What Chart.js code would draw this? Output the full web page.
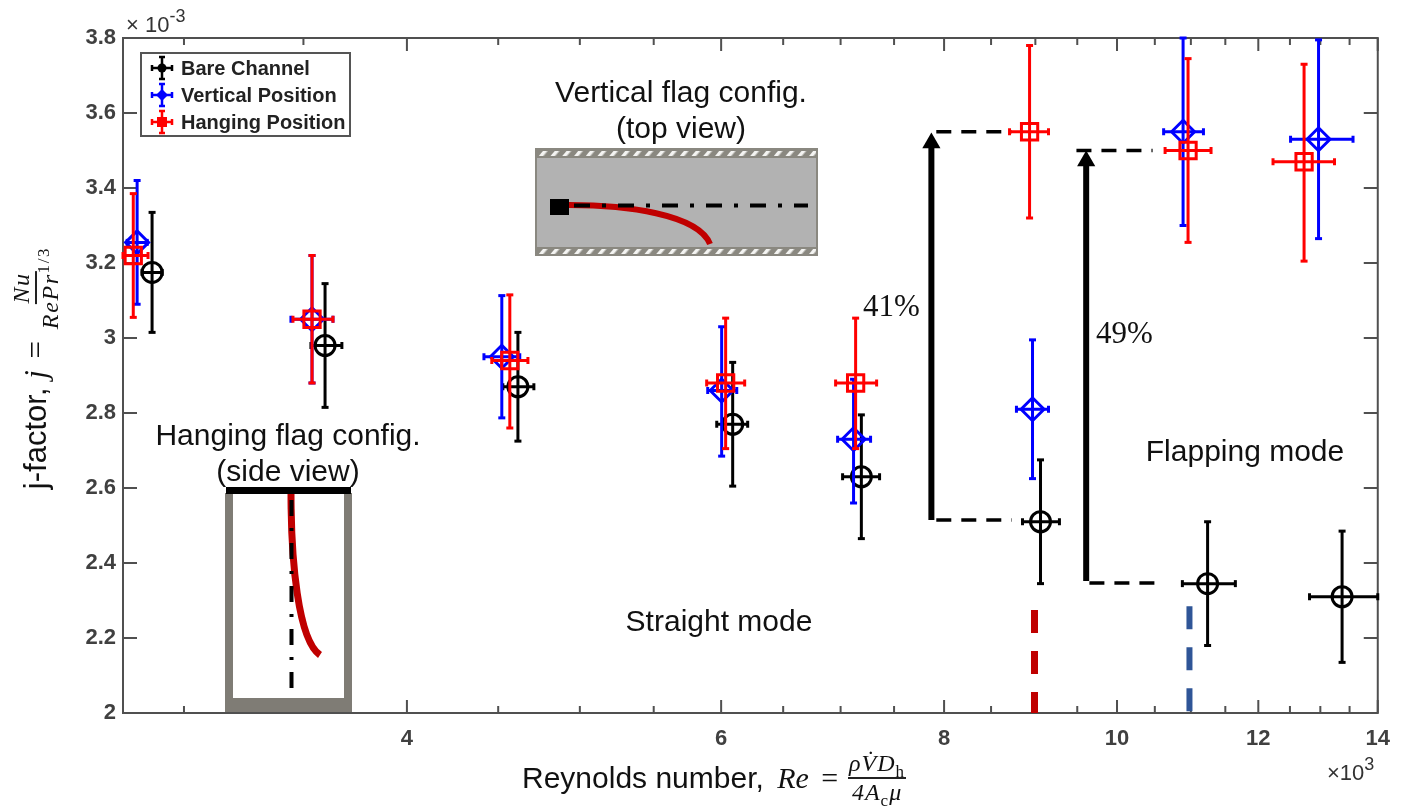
<!DOCTYPE html>
<html lang="en">
<head>
<meta charset="UTF-8">
<title>j-factor vs Reynolds number</title>
<script src="https://cdn.jsdelivr.net/npm/chart.js"></script>
<style>
    html, body { margin: 0; padding: 0; background: #fff; }
    #wrap { position: relative; width: 1403px; height: 808px; overflow: hidden; font-family: "Liberation Sans", Arial, sans-serif; color: #111; }
    canvas { position: absolute; left: 0; top: 0; }
    svg.overlay { position: absolute; left: 0; top: 0; }
    .note { position: absolute; font-size: 30px; line-height: 35.5px; text-align: center; white-space: nowrap; transform: translateX(-50%); }
    .pct { position: absolute; font-family: "Liberation Serif", serif; font-size: 31px; white-space: nowrap; }
    .exp { position: absolute; font-size: 22px; color: #333; white-space: nowrap; }
    .exp sup { font-size: 18px; position: relative; top: -2px; line-height: 0; vertical-align: super; }
    #legend { position: absolute; left: 140px; top: 52px; width: 207px; height: 81px; border: 2px solid #555; background: #fff; }
    #legend div { position: absolute; left: 39px; font-weight: bold; font-size: 20px; line-height: 22px; color: #222; white-space: nowrap; }
    .axis-title { position: absolute; font-size: 30px; white-space: nowrap; display: flex; align-items: center; }
    .m { font-family: "Liberation Serif", serif; font-style: italic; }
    .frac { display: inline-flex; flex-direction: column; align-items: center; font-family: "Liberation Serif", serif; font-style: italic; font-size: 24px; line-height: 27px; letter-spacing: 1px; }
    .frac span:first-child { border-bottom: 2.5px solid #222; padding: 0 1px; }
    .frac sub, .frac sup { font-size: 17px; line-height: 0; font-style: normal; }
</style>
</head>
<body>
<div id="wrap">
    <canvas id="chart" width="1403" height="808"></canvas>

    <svg class="overlay" width="1403" height="808">
        <defs>
            <pattern id="hatch" width="9" height="9" patternUnits="userSpaceOnUse" patternTransform="rotate(40)">
                <rect width="9" height="9" fill="#8a8880"/>
                <rect width="3.5" height="9" fill="#f4f4f2"/>
            </pattern>
        </defs>
        <!-- top view inset -->
        <rect x="535" y="148" width="283" height="108" fill="#b2b2b2"/>
        <rect x="536" y="149" width="281" height="106" fill="none" stroke="#8a8880" stroke-width="2"/>
        <rect x="535" y="148" width="283" height="10" fill="#8a8880"/>
        <rect x="537" y="151" width="279" height="5" fill="url(#hatch)"/>
        <rect x="535" y="247" width="283" height="9" fill="#8a8880"/>
        <rect x="537" y="249" width="279" height="5" fill="url(#hatch)"/>
        <path d="M569 205 C 625 205, 698 214, 710 244" fill="none" stroke="#c00000" stroke-width="6"/>
        <line x1="574" y1="205.5" x2="808" y2="205.5" stroke="#000" stroke-width="4" stroke-dasharray="16 12 4 12"/>
        <rect x="550" y="199" width="19" height="16" fill="#000"/>
        <!-- side view inset -->
        <path d="M229 493 V708 H348 V493" fill="none" stroke="#7f7c75" stroke-width="8"/>
        <rect x="225" y="698" width="127" height="14" fill="#7f7c75"/>
        <path d="M291 493 C 291 560, 298 640, 320 655" fill="none" stroke="#c00000" stroke-width="7"/>
        <line x1="291.5" y1="500" x2="291.5" y2="693" stroke="#000" stroke-width="4" stroke-dasharray="16 12 3 12"/>
        <rect x="226" y="487" width="125" height="7" fill="#000"/>
    </svg>

    <div class="exp" style="left:126px;top:12px;">&times; 10<sup>-3</sup></div>
    <div class="exp" style="left:1327px;top:760px;">&times;10<sup>3</sup></div>

    <div id="legend">
        <svg width="40" height="83" style="position:absolute;left:0;top:0">
            <g id="glyphs"></g>
        </svg>
        <div style="top:3px">Bare Channel</div>
        <div style="top:30px">Vertical Position</div>
        <div style="top:57px">Hanging Position</div>
    </div>

    <div class="note" style="left:681px;top:74px;">Vertical flag config.<br>(top view)</div>
    <div class="note" style="left:288px;top:417px;">Hanging flag config.<br>(side view)</div>
    <div class="note" style="left:719px;top:603px;">Straight mode</div>
    <div class="note" style="left:1245px;top:433px;">Flapping mode</div>
    <div class="pct" style="left:863px;top:288px;">41%</div>
    <div class="pct" style="left:1096px;top:315px;">49%</div>

    <div class="axis-title" style="left:522px;top:748px;height:60px;">
        Reynolds number,&nbsp;<span class="m" style="margin-left:5px">Re</span>&nbsp;<span class="m" style="font-style:normal;margin-left:4px">=</span>
        <span class="frac" style="margin-left:10px"><span>&rho;V&#775;D<sub>h</sub></span><span>4A<sub>c</sub>&mu;</span></span>
    </div>
    <div class="axis-title" style="left:36px;top:368px;transform:translate(-50%,-50%) rotate(-90deg);font-size:31px;">
        j-factor,&nbsp;<span class="m">j</span>&nbsp;<span class="m" style="font-style:normal;margin-left:3px">=</span>
        <span class="frac" style="margin-left:12px;letter-spacing:1.6px"><span>Nu</span><span>RePr<sup>1/3</sup></span></span>
    </div>
</div>

<script>
    const xMajor = [4, 6, 8, 10, 12, 14];
    const xMinor = [3, 3.5, 4.5, 5, 5.5, 6.5, 7, 7.5, 8.5, 9, 9.5, 10.5, 11, 11.5, 12.5, 13, 13.5];
    const yTicks = [2, 2.2, 2.4, 2.6, 2.8, 3, 3.2, 3.4, 3.6, 3.8];

    // bare channel
    const bareX   = [2.879, 3.599, 4.616, 6.09, 7.19, 9.06, 11.24, 13.37];
    const bareXLo = [2.842, 3.534, 4.527, 5.966, 7.018, 8.852, 10.88, 12.82];
    const bareXHi = [2.917, 3.678, 4.712, 6.209, 7.361, 9.284, 11.65, 14];
    const bareY   = [3.175, 2.98, 2.87, 2.77, 2.63, 2.51, 2.345, 2.31];
    const bareYLo = [3.015, 2.815, 2.725, 2.605, 2.465, 2.345, 2.18, 2.135];
    const bareYHi = [3.335, 3.145, 3.015, 2.935, 2.795, 2.675, 2.51, 2.485];

    // vertical position
    const vertX   = [2.824, 3.539, 4.521, 6.004, 7.118, 8.967, 10.89, 12.97];
    const vertXLo = [2.788, 3.444, 4.418, 5.897, 6.973, 8.783, 10.62, 12.51];
    const vertXHi = [2.861, 3.636, 4.627, 6.122, 7.276, 9.154, 11.18, 13.56];
    const vertY   = [3.255, 3.05, 2.95, 2.86, 2.73, 2.81, 3.55, 3.53];
    const vertYLo = [3.09, 2.88, 2.787, 2.685, 2.56, 2.625, 3.3, 3.265];
    const vertYHi = [3.42, 3.22, 3.113, 3.03, 2.89, 2.995, 3.8, 3.795];

    // hanging position
    const hangX   = [2.81, 3.539, 4.568, 6.035, 7.137, 8.933, 10.96, 12.73];
    const hangXLo = [2.773, 3.453, 4.463, 5.889, 6.955, 8.705, 10.64, 12.23];
    const hangXHi = [2.864, 3.636, 4.676, 6.185, 7.333, 9.154, 11.29, 13.24];
    const hangY   = [3.22, 3.05, 2.94, 2.88, 2.88, 3.55, 3.5, 3.47];
    const hangYLo = [3.055, 2.88, 2.76, 2.705, 2.705, 3.32, 3.255, 3.205];
    const hangYHi = [3.385, 3.22, 3.115, 3.053, 3.053, 3.78, 3.745, 3.73];

    // annotation lines, as [x0, y0, x1, y1]
    const dashLines = [
        [7.92, 3.55, 8.73, 3.55],
        [7.92, 2.515, 8.73, 2.515],
        [9.49, 3.5, 10.47, 3.5],
        [9.65, 2.347, 10.63, 2.347]
    ];
    const arrowLines = [
        [7.87, 2.515, 7.87, 3.52],
        [9.61, 2.352, 9.61, 3.472]
    ];
    const onsetRed = [8.99, 2.275, 8.99, 2];
    const onsetBlue = [10.98, 2.285, 10.98, 2.005];

    function whiskers(x, xLo, xHi, y, yLo, yHi) {
        const pts = [];
        x.forEach((v, i) => {
            pts.push({x: xLo[i], y: y[i], rot: 90}, {x: xHi[i], y: y[i], rot: 90}, {x: NaN, y: NaN});
            pts.push({x: v, y: yLo[i], rot: 0}, {x: v, y: yHi[i], rot: 0}, {x: NaN, y: NaN});
        });
        return pts;
    }

    function seriesDatasets(name, color, style, radius, order, x, xLo, xHi, y, yLo, yHi) {
        return [
            {
                label: name + ' error',
                data: whiskers(x, xLo, xHi, y, yLo, yHi),
                showLine: true,
                spanGaps: false,
                clip: false,
                borderColor: color,
                borderWidth: 3,
                pointStyle: 'line',
                pointRadius: 3.5,
                pointBorderColor: color,
                pointBorderWidth: 3,
                pointRotation: ctx => (ctx.raw ? ctx.raw.rot || 0 : 0),
                order: order + 0.1
            },
            {
                label: name,
                data: x.map((v, i) => ({x: v, y: y[i]})),
                showLine: false,
                clip: false,
                pointStyle: style,
                pointRadius: radius,
                pointBackgroundColor: 'rgba(0,0,0,0)',
                pointBorderColor: color,
                pointBorderWidth: 3,
                order: order
            }
        ];
    }

    function segment(line, color, width, dash) {
        return {
            data: [{x: line[0], y: line[1]}, {x: line[2], y: line[3]}],
            showLine: true,
            clip: false,
            borderColor: color,
            borderWidth: width,
            borderDash: dash,
            borderCapStyle: 'butt',
            pointRadius: 0,
            order: 10
        };
    }

    function arrowHead(line) {
        return {
            data: [{x: line[2], y: line[3]}],
            showLine: false,
            pointStyle: 'triangle',
            pointRadius: 10.5,
            pointBackgroundColor: '#000',
            pointBorderWidth: 0,
            order: 10
        };
    }

    const boxTicks = {
        id: 'boxTicks',
        beforeDatasetsDraw(chart) {
            const {ctx, chartArea: a, scales} = chart;
            ctx.save();
            ctx.strokeStyle = '#505050';
            ctx.lineWidth = 2;
            ctx.beginPath();
            xMajor.forEach(v => {
                const p = scales.x.getPixelForValue(v);
                ctx.moveTo(p, a.bottom); ctx.lineTo(p, a.bottom - 13);
                ctx.moveTo(p, a.top); ctx.lineTo(p, a.top + 13);
            });
            xMinor.forEach(v => {
                const p = scales.x.getPixelForValue(v);
                ctx.moveTo(p, a.bottom); ctx.lineTo(p, a.bottom - 7);
                ctx.moveTo(p, a.top); ctx.lineTo(p, a.top + 7);
            });
            yTicks.forEach(v => {
                const p = scales.y.getPixelForValue(v);
                ctx.moveTo(a.left, p); ctx.lineTo(a.left + 14, p);
                ctx.moveTo(a.right, p); ctx.lineTo(a.right - 14, p);
            });
            ctx.stroke();
            ctx.strokeRect(a.left, a.top, a.right - a.left, a.bottom - a.top);
            ctx.restore();
        }
    };

    const tickFont = {family: '"Liberation Sans", Arial, sans-serif', size: 22, weight: 'bold'};

    new Chart('chart', {
        type: 'scatter',
        data: {
            datasets: [
                ...seriesDatasets('Hanging Position', '#ff0000', 'rect', 11.5, 1, hangX, hangXLo, hangXHi, hangY, hangYLo, hangYHi),
                ...seriesDatasets('Vertical Position', '#0000ff', 'rectRot', 11.5, 2, vertX, vertXLo, vertXHi, vertY, vertYLo, vertYHi),
                ...seriesDatasets('Bare Channel', '#000000', 'circle', 10, 3, bareX, bareXLo, bareXHi, bareY, bareYLo, bareYHi),
                ...dashLines.map(l => segment(l, '#000', 3.5, [15, 10])),
                ...arrowLines.map(l => segment(l, '#000', 6, [])),
                ...arrowLines.map(arrowHead),
                segment(onsetRed, '#c00000', 7, [23, 18]),
                segment(onsetBlue, '#2f5597', 6, [23, 18])
            ]
        },
        options: {
            responsive: false,
            animation: false,
            layout: {padding: {top: 38, right: 24, bottom: 0, left: 0}},
            plugins: {legend: {display: false}, tooltip: {enabled: false}},
            scales: {
                x: {
                    type: 'logarithmic',
                    min: 2.773,
                    max: 14,
                    grid: {display: false, drawTicks: false},
                    border: {display: false},
                    afterBuildTicks: axis => {
                        axis.ticks = [...xMajor, ...xMinor].sort((a, b) => a - b).map(v => ({value: v}));
                    },
                    afterFit: axis => { axis.height = 95; },
                    ticks: {
                        autoSkip: false,
                        maxRotation: 0,
                        padding: 13,
                        color: '#404040',
                        font: tickFont,
                        callback: v => (xMajor.includes(v) ? String(v) : '')
                    }
                },
                y: {
                    min: 2,
                    max: 3.8,
                    grid: {display: false, drawTicks: false},
                    border: {display: false},
                    afterBuildTicks: axis => {
                        axis.ticks = yTicks.map(v => ({value: v}));
                    },
                    afterFit: axis => { axis.width = 123; },
                    ticks: {
                        padding: 7,
                        color: '#404040',
                        font: tickFont,
                        callback: v => String(v)
                    }
                }
            }
        },
        plugins: [boxTicks]
    });

    // legend glyphs use the same marker look as the plot
    const legendRows = [
        {y: 14, color: '#000', mark: '<circle cx="20" cy="14" r="4.5" fill="#000"/>'},
        {y: 41, color: '#00f', mark: '<path d="M20 35 L26 41 L20 47 L14 41 Z" fill="#00f"/>'},
        {y: 68, color: '#f00', mark: '<rect x="15" y="63" width="10" height="10" fill="#f00"/>'}
    ];
    document.getElementById('glyphs').innerHTML = legendRows.map(r =>
        `<g stroke="${r.color}" stroke-width="2.5">
            <path d="M10 ${r.y} H30 M20 ${r.y - 11} V${r.y + 11} M10 ${r.y - 3} V${r.y + 3} M30 ${r.y - 3} V${r.y + 3} M17 ${r.y - 11} H23 M17 ${r.y + 11} H23" fill="none"/>
         </g>${r.mark}`
    ).join('');
</script>
</body>
</html>
